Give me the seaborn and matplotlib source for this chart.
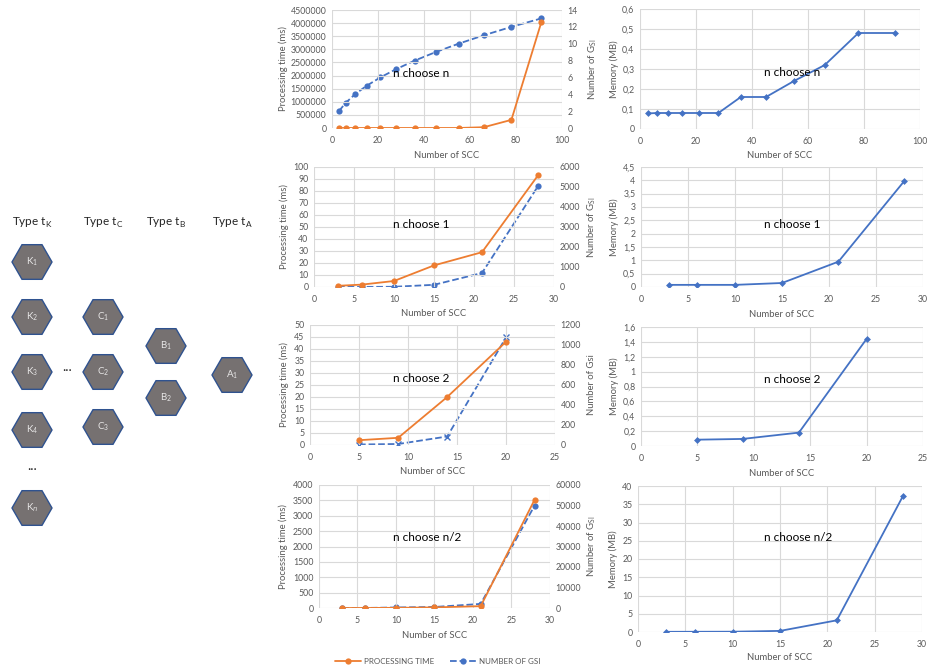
import numpy as np
import matplotlib.pyplot as plt
import seaborn as sns
from matplotlib.patches import RegularPolygon
from matplotlib.lines import Line2D
from matplotlib.ticker import FuncFormatter

sns.set_style("white")
plt.rcParams['font.family'] = ['Lato', 'DejaVu Sans']
plt.rcParams['mathtext.fontset'] = 'custom'
plt.rcParams['mathtext.rm'] = 'Lato'

ORANGE = '#ED7D31'
BLUE = '#4472C4'
GRID = '#D9D9D9'
TXT = '#595959'

# n choose n
scc_nn = [3, 6, 10, 15, 21, 28, 36, 45, 55, 66, 78, 91]
time_nn = [0, 0, 0, 0, 0, 0, 0, 0, 0, 30000, 310000, 4030000]
gsi_nn = [2, 3, 4, 5, 6, 7, 8, 9, 10, 11, 12, 13]
mem_nn = [0.078, 0.08, 0.08, 0.08, 0.08, 0.08, 0.16, 0.16, 0.24, 0.32, 0.48, 0.48]

# n choose 1
scc_n1 = [3, 6, 10, 15, 21, 28]
time_n1 = [1, 2, 5, 18, 29, 93]
gsi_n1 = [3, 6, 10, 110, 700, 5040]
mem_n1 = [0.08, 0.08, 0.08, 0.15, 0.95, 3.97]

# n choose 2
scc_n2 = [5, 9, 14, 20]
time_n2 = [2, 3, 20, 43]
gsi_n2 = [5, 10, 85, 1075]
mem_n2 = [0.085, 0.095, 0.18, 1.44]

# n choose n/2
scc_nh = [3, 6, 10, 15, 21, 28]
time_nh = [0, 1, 5, 20, 60, 3520]
gsi_nh = [2, 20, 250, 500, 2000, 50000]
mem_nh = [0.05, 0.06, 0.08, 0.3, 3.2, 37.3]

W, H = 928, 671
fig = plt.figure(figsize=(W / 100, H / 100), dpi=100)

int_fmt = FuncFormatter(lambda v, p: f'{v:.0f}')
comma_fmt = FuncFormatter(lambda v, p: f'{v:g}'.replace('.', ','))


def px_axes(x0, x1, y0, y1):
    return fig.add_axes([x0 / W, 1 - y1 / H, (x1 - x0) / W, (y1 - y0) / H])


def style(ax, xmax, xstep, ymax, ystep):
    ax.set_xlim(0, xmax)
    ax.set_ylim(0, ymax)
    ax.set_xticks(np.arange(0, xmax + xstep / 2, xstep))
    ax.set_yticks(np.arange(0, ymax + ystep / 2, ystep))
    ax.grid(True, color=GRID, lw=0.8)
    ax.set_axisbelow(True)
    for s in ax.spines.values():
        s.set_visible(False)
    ax.tick_params(length=0, labelsize=6.3, labelcolor=TXT)
    ax.tick_params(axis='x', pad=5.5)
    ax.tick_params(axis='y', pad=4)


def labels(ax, ylab, ylx, xly):
    ax.set_xlabel('Number of SCC', fontsize=6.8, color=TXT, va='center')
    ax.xaxis.set_label_coords(0.5, xly)
    ax.set_ylabel(ylab, fontsize=6.8, color=TXT, va='center')
    ax.yaxis.set_label_coords(ylx, 0.5)


# ---- left: processing time + number of GSI ----
left = [
    (scc_nn, time_nn, gsi_nn, 'n choose n', (332, 562, 10, 128), (100, 20, 4500000, 500000, 14, 2),
     'Number of G$_\\mathrm{SI}$', 'o', -0.213, 1.135, -0.23, (0.265, 0.466)),
    (scc_n1, time_n1, gsi_n1, 'n choose 1', (314, 554, 167, 287), (30, 5, 100, 10, 6000, 1000),
     'Number of G$_\\mathrm{SI}$', 'o', -0.125, 1.158, -0.225, (0.33, 0.525)),
    (scc_n2, time_n2, gsi_n2, 'n choose 2', (310, 555, 325, 445), (25, 5, 50, 5, 1200, 200),
     'Number of Gsi', 'x', -0.106, 1.147, -0.225, (0.339, 0.55)),
    (scc_nh, time_nh, gsi_nh, 'n choose n/2', (319, 550, 485, 608), (30, 5, 4000, 500, 60000, 10000),
     'Number of G$_\\mathrm{SI}$', 'o', -0.156, 1.182, -0.22, (0.32, 0.577)),
]

for scc, t, g, name, box, lim, rlab, gm, ylx, rlx, xly, txy in left:
    ax = px_axes(*box)
    style(ax, lim[0], lim[1], lim[2], lim[3])
    ax2 = ax.twinx()
    sns.lineplot(x=scc, y=g, ax=ax2, color=BLUE, lw=1.3, linestyle='--', marker=gm,
                 markersize=4.5, markeredgecolor=BLUE, markeredgewidth=1 if gm == 'x' else 0)
    sns.lineplot(x=scc, y=t, ax=ax, color=ORANGE, lw=1.3, marker='o',
                 markersize=4.5, markeredgewidth=0)
    ax.set_zorder(ax2.get_zorder() + 1)
    ax.patch.set_visible(False)
    ax.yaxis.set_major_formatter(int_fmt)
    ax2.set_ylim(0, lim[4])
    ax2.set_yticks(np.arange(0, lim[4] + lim[5] / 2, lim[5]))
    ax2.yaxis.set_major_formatter(int_fmt)
    for s in ax2.spines.values():
        s.set_visible(False)
    ax2.tick_params(length=0, pad=4, labelsize=6.3, labelcolor=TXT)
    ax2.grid(False)
    labels(ax, 'Processing time (ms)', ylx, xly)
    ax2.set_ylabel(rlab, fontsize=6.8, color=TXT, rotation=90, va='center')
    ax2.yaxis.set_label_coords(rlx, 0.5)
    ax.text(txy[0], txy[1], name, transform=ax.transAxes, fontsize=8.5, color='black',
            ha='left', va='center', zorder=10)

# ---- right: memory ----
right = [
    (scc_nn, mem_nn, 'n choose n', (640, 920, 9, 129), (100, 20, 0.6, 0.1), -0.093, -0.217, (0.443, 0.467)),
    (scc_n1, mem_n1, 'n choose 1', (641, 923, 167, 287), (30, 5, 4.5, 0.5), -0.096, -0.233, (0.436, 0.525)),
    (scc_n2, mem_n2, 'n choose 2', (641, 923, 327, 446), (25, 5, 1.6, 0.2), -0.096, -0.227, (0.436, 0.563)),
    (scc_nh, mem_nh, 'n choose n/2', (638, 922, 486, 632), (30, 5, 40, 5), -0.088, -0.178, (0.444, 0.65)),
]

for scc, m, name, box, lim, ylx, xly, txy in right:
    ax = px_axes(*box)
    style(ax, lim[0], lim[1], lim[2], lim[3])
    sns.lineplot(x=scc, y=m, ax=ax, color=BLUE, lw=1.3, marker='D', markersize=3.5,
                 markeredgewidth=0)
    ax.yaxis.set_major_formatter(comma_fmt)
    labels(ax, 'Memory (MB)', ylx, xly)
    ax.text(txy[0], txy[1], name, transform=ax.transAxes, fontsize=8.5, color='black',
            ha='left', va='center', zorder=10)

# legend under the bottom-left chart
handles = [
    Line2D([], [], color=ORANGE, lw=1.3, marker='o', markersize=4.5, markeredgewidth=0),
    Line2D([], [], color=BLUE, lw=1.3, ls='--', marker='o', markersize=4.5, markeredgewidth=0),
]
fig.legend(handles, ['PROCESSING TIME', 'NUMBER OF GSI'], loc='center', ncol=2,
           bbox_to_anchor=(438 / W, 1 - 661 / H), frameon=False, fontsize=5.8,
           labelcolor=TXT, handlelength=3.2, columnspacing=2.0, handletextpad=0.4)

# ---- left diagram of SCC types ----
dg = fig.add_axes([0, 0, 1, 1], zorder=-1)
dg.set_xlim(0, W)
dg.set_ylim(H, 0)
dg.axis('off')

types = [('K', 32), ('C', 103), ('B', 166), ('A', 232)]
for t, cx in types:
    dg.text(cx, 223, 'Type t$_\\mathrm{%s}$' % t, fontsize=8.5, ha='center', va='center')

hexes = [('K$_1$', 32, 262), ('K$_2$', 32, 317), ('K$_3$', 32, 372), ('K$_4$', 32, 430),
         ('K$_n$', 32, 508), ('C$_1$', 103, 317), ('C$_2$', 103, 372), ('C$_3$', 103, 427),
         ('B$_1$', 166, 346), ('B$_2$', 166, 398), ('A$_1$', 232, 375)]
for lab, cx, cy in hexes:
    dg.add_patch(RegularPolygon((cx, cy), numVertices=6, radius=20, orientation=np.pi / 6,
                                facecolor='#767171', edgecolor='#2F528F', lw=1.0))
    dg.text(cx, cy, lab, fontsize=7, color='#E7E6E6', ha='center', va='center')
dg.text(32, 466, '...', fontsize=10, ha='center', va='center')
dg.text(67, 367, '...', fontsize=10, ha='center', va='center')

fig.savefig('out.png', dpi=100)
